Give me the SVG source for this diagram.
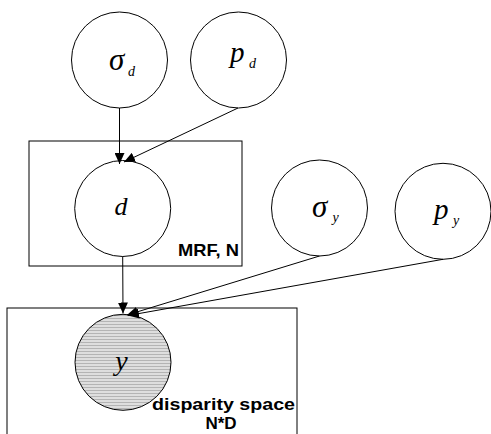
<svg xmlns="http://www.w3.org/2000/svg" width="491" height="434" viewBox="0 0 491 434">
<style>
.node{fill:#fff;stroke:#000;stroke-width:1}
.plate{fill:none;stroke:#000;stroke-width:1}
.var{font-family:"Liberation Serif","Times New Roman",serif;font-style:italic;fill:#000}
.lbl{font-family:"Liberation Sans",Arial,sans-serif;font-weight:bold;font-size:17px;fill:#000}
.edge{stroke:#000;stroke-width:1;fill:none;marker-end:url(#arr)}
</style>
<defs>
<marker id="arr" viewBox="0 0 11 10" refX="11" refY="5" markerWidth="11" markerHeight="10" markerUnits="userSpaceOnUse" orient="auto">
<path d="M0,0 L11,5 L0,10 z" fill="#000"/>
</marker>
<pattern id="hatch" width="4" height="3" patternUnits="userSpaceOnUse">
<rect width="4" height="3" fill="#dedede"/>
<rect width="4" height="1" fill="#b4b4b4"/>
</pattern>
</defs>
<g id="plate-mrf">
<rect class="plate" x="29" y="141" width="213" height="125"/>
<text class="lbl" x="178" y="256" textLength="61" lengthAdjust="spacingAndGlyphs">MRF, N</text>
</g>
<g id="plate-disparity">
<rect class="plate" x="7" y="308" width="290" height="140"/>
<text class="lbl" x="152" y="410" textLength="143" lengthAdjust="spacingAndGlyphs">disparity space</text>
<text class="lbl" x="221" y="429" text-anchor="middle">N*D</text>
</g>
<g id="node-sigma-d">
<circle class="node" cx="119.5" cy="60" r="48"/>
<text class="var" x="109" y="70" font-size="31">σ</text>
<text class="var" x="128" y="76" font-size="14">d</text>
</g>
<g id="node-p-d">
<circle class="node" cx="238.5" cy="60" r="48"/>
<text class="var" x="230" y="62" font-size="29">p</text>
<text class="var" x="249" y="68" font-size="14">d</text>
</g>
<g id="node-d">
<circle class="node" cx="122.7" cy="208.5" r="48"/>
<text class="var" x="121" y="215" font-size="26" text-anchor="middle">d</text>
</g>
<g id="node-sigma-y">
<circle class="node" cx="319.5" cy="208" r="48"/>
<text class="var" x="312" y="217" font-size="31">σ</text>
<text class="var" x="332.5" y="222" font-size="14">y</text>
</g>
<g id="node-p-y">
<circle class="node" cx="443" cy="211.3" r="48"/>
<text class="var" x="434" y="219" font-size="29">p</text>
<text class="var" x="453" y="225" font-size="14">y</text>
</g>
<g id="node-y">
<circle class="node" cx="123" cy="362.3" r="48" style="fill:url(#hatch)"/>
<text class="var" x="121.5" y="370" font-size="28" text-anchor="middle">y</text>
</g>
<g id="connectors">
<line class="edge" x1="119.5" y1="108" x2="119.5" y2="164"/>
<line class="edge" x1="238" y1="108" x2="124" y2="162"/>
<line class="edge" x1="122.7" y1="256.5" x2="123" y2="313.5"/>
<line class="edge" x1="319.5" y1="256" x2="127" y2="315"/>
<line class="edge" x1="443" y1="259.3" x2="128" y2="315.5"/>
</g>
</svg>
